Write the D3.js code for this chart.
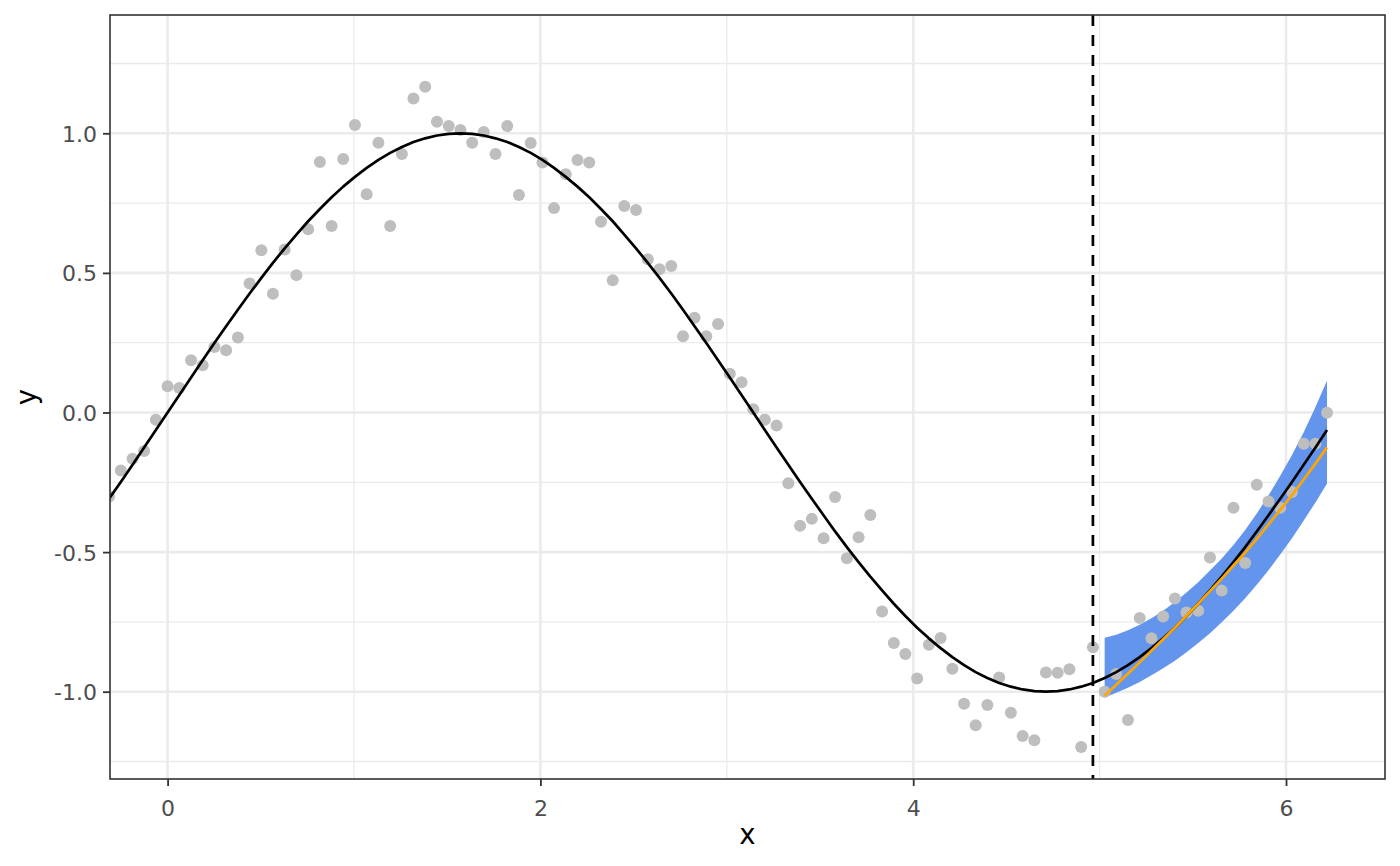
<!DOCTYPE html>
<html><head><meta charset="utf-8">
<script src="https://cdn.jsdelivr.net/npm/d3@7"></script>
<style>body{margin:0;background:#fff;} svg{display:block;}</style>
</head><body><svg id="chart" width="1400" height="866"></svg>
<script>
const xValues = [-0.314,-0.251,-0.188,-0.126,-0.063,0,0.063,0.126,0.188,0.251,0.314,0.377,0.440,0.503,0.565,0.628,0.691,0.754,0.817,0.880,0.942,1.005,1.068,1.131,1.194,1.257,1.319,1.382,1.445,1.508,1.571,1.634,1.696,1.759,1.822,1.885,1.948,2.011,2.073,2.136,2.199,2.262,2.325,2.388,2.450,2.513,2.576,2.639,2.702,2.765,2.827,2.890,2.953,3.016,3.079,3.142,3.204,3.267,3.330,3.393,3.456,3.519,3.581,3.644,3.707,3.770,3.833,3.896,3.958,4.021,4.084,4.147,4.210,4.273,4.335,4.398,4.461,4.524,4.587,4.650,4.712,4.775,4.838,4.901,4.964,5.027,5.089,5.152,5.215,5.278,5.341,5.404,5.466,5.529,5.592,5.655,5.718,5.781,5.843,5.906,5.969,6.032,6.095,6.158,6.220];
const yObserved = [-0.301,-0.208,-0.166,-0.138,-0.026,0.094,0.088,0.187,0.169,0.235,0.223,0.269,0.462,0.581,0.425,0.584,0.492,0.656,0.897,0.668,0.908,1.030,0.782,0.966,0.668,0.926,1.125,1.167,1.041,1.026,1.012,0.966,1.005,0.926,1.026,0.779,0.965,0.895,0.732,0.853,0.904,0.895,0.683,0.474,0.740,0.725,0.549,0.513,0.525,0.273,0.339,0.273,0.317,0.139,0.108,0.012,-0.026,-0.047,-0.253,-0.406,-0.381,-0.450,-0.303,-0.522,-0.447,-0.367,-0.713,-0.826,-0.865,-0.953,-0.832,-0.808,-0.918,-1.043,-1.120,-1.048,-0.949,-1.075,-1.159,-1.174,-0.931,-0.932,-0.920,-1.198,-0.841,-1.000,-0.937,-1.101,-0.736,-0.809,-0.731,-0.666,-0.716,-0.710,-0.519,-0.638,-0.341,-0.539,-0.259,-0.319,-0.341,-0.285,-0.112,-0.112,-0.001];
const yTrue = [-0.309,-0.249,-0.187,-0.125,-0.063,0,0.063,0.125,0.187,0.249,0.309,0.368,0.426,0.482,0.536,0.588,0.637,0.685,0.729,0.771,0.809,0.844,0.876,0.905,0.930,0.951,0.969,0.982,0.992,0.998,1.000,0.998,0.992,0.982,0.969,0.951,0.930,0.905,0.876,0.844,0.809,0.771,0.729,0.685,0.637,0.588,0.536,0.482,0.426,0.368,0.309,0.249,0.187,0.125,0.063,0,-0.063,-0.125,-0.187,-0.249,-0.309,-0.368,-0.426,-0.482,-0.536,-0.588,-0.637,-0.685,-0.729,-0.771,-0.809,-0.844,-0.876,-0.905,-0.930,-0.951,-0.969,-0.982,-0.992,-0.998,-1.000,-0.998,-0.992,-0.982,-0.969,-0.951,-0.930,-0.905,-0.876,-0.844,-0.809,-0.771,-0.729,-0.685,-0.637,-0.588,-0.536,-0.482,-0.426,-0.368,-0.309,-0.249,-0.187,-0.125,-0.063];
const forecastX = [5.027,5.089,5.152,5.215,5.278,5.341,5.404,5.466,5.529,5.592,5.655,5.718,5.781,5.843,5.906,5.969,6.032,6.095,6.158,6.220];
const forecastMean = [-1.015,-0.975,-0.936,-0.895,-0.853,-0.812,-0.771,-0.728,-0.685,-0.640,-0.595,-0.548,-0.502,-0.453,-0.401,-0.349,-0.296,-0.240,-0.183,-0.125];
const forecastLower = [-1.022,-1.004,-0.986,-0.965,-0.941,-0.916,-0.889,-0.859,-0.826,-0.791,-0.751,-0.710,-0.665,-0.617,-0.565,-0.509,-0.450,-0.387,-0.322,-0.254];
const forecastUpper = [-0.807,-0.796,-0.780,-0.760,-0.737,-0.710,-0.679,-0.645,-0.608,-0.566,-0.523,-0.475,-0.421,-0.362,-0.297,-0.227,-0.152,-0.071,0.020,0.115];
const cutoffX = 4.964;
const xTicks = [0, 2, 4, 6];
const xTickLabels = ["0", "2", "4", "6"];
const xMinor = [1, 3, 5];
const yTicks = [-1, -0.5, 0, 0.5, 1];
const yTickLabels = ["-1.0", "-0.5", "0.0", "0.5", "1.0"];
const yMinor = [-1.25, -0.75, -0.25, 0.25, 0.75, 1.25];

const P = {left: 110, right: 1385, top: 15, bottom: 779};
const svg = d3.select("#chart");
const x = d3.scaleLinear().domain([-0.309, 6.531]).range([P.left, P.right]);
const y = d3.scaleLinear().domain([-1.3127, 1.4237]).range([P.bottom, P.top]);
const FONT = "'DejaVu Sans', sans-serif";

svg.append("defs").append("clipPath").attr("id", "clip")
  .append("rect").attr("x", P.left).attr("y", P.top)
  .attr("width", P.right - P.left).attr("height", P.bottom - P.top);

const grid = svg.append("g");
const gc = "#EBEBEB";
grid.selectAll(".xmin").data(xMinor).join("line")
  .attr("x1", d => x(d)).attr("x2", d => x(d)).attr("y1", P.top).attr("y2", P.bottom)
  .attr("stroke", gc).attr("stroke-width", 1.3);
grid.selectAll(".ymin").data(yMinor).join("line")
  .attr("y1", d => y(d)).attr("y2", d => y(d)).attr("x1", P.left).attr("x2", P.right)
  .attr("stroke", gc).attr("stroke-width", 1.3);
grid.selectAll(".xmaj").data(xTicks).join("line")
  .attr("x1", d => x(d)).attr("x2", d => x(d)).attr("y1", P.top).attr("y2", P.bottom)
  .attr("stroke", gc).attr("stroke-width", 2.6);
grid.selectAll(".ymaj").data(yTicks).join("line")
  .attr("y1", d => y(d)).attr("y2", d => y(d)).attr("x1", P.left).attr("x2", P.right)
  .attr("stroke", gc).attr("stroke-width", 2.6);

const plot = svg.append("g").attr("clip-path", "url(#clip)");

const fc = forecastX.map((d, i) => ({x: d, m: forecastMean[i], lo: forecastLower[i], hi: forecastUpper[i]}));
plot.append("path").datum(fc)
  .attr("d", d3.area().x(d => x(d.x)).y0(d => y(d.lo)).y1(d => y(d.hi)))
  .attr("fill", "#6495ED");

const pts = xValues.map((d, i) => ({x: d, y: yObserved[i], t: yTrue[i]}));
plot.selectAll("circle").data(pts).join("circle")
  .attr("cx", d => x(d.x)).attr("cy", d => y(d.y)).attr("r", 6)
  .attr("fill", "#BEBEBE");

plot.append("path").datum(pts)
  .attr("d", d3.line().x(d => x(d.x)).y(d => y(d.t)))
  .attr("fill", "none").attr("stroke", "#000").attr("stroke-width", 2.7)
  .attr("stroke-linejoin", "round");

plot.append("path").datum(fc)
  .attr("d", d3.line().x(d => x(d.x)).y(d => y(d.m)))
  .attr("fill", "none").attr("stroke", "#FFA500").attr("stroke-width", 2.7)
  .attr("stroke-linejoin", "round");

plot.append("line")
  .attr("x1", x(cutoffX)).attr("x2", x(cutoffX)).attr("y1", P.top).attr("y2", P.bottom)
  .attr("stroke", "#000").attr("stroke-width", 2.7).attr("stroke-dasharray", "11,9");

svg.append("rect").attr("x", P.left).attr("y", P.top)
  .attr("width", P.right - P.left).attr("height", P.bottom - P.top)
  .attr("fill", "none").attr("stroke", "#333333").attr("stroke-width", 1.6);

const xAxis = d3.axisBottom(x).tickValues(xTicks).tickSize(7).tickPadding(6)
  .tickFormat((d, i) => xTickLabels[i]);
const gx = svg.append("g").attr("transform", `translate(0,${P.bottom})`).call(xAxis);
gx.select(".domain").remove();
gx.selectAll(".tick line").attr("stroke", "#333333").attr("stroke-width", 1.8);
gx.selectAll(".tick text").attr("fill", "#4D4D4D").attr("font-size", 22)
  .attr("font-family", FONT).attr("dy", "1.08em");

const yAxis = d3.axisLeft(y).tickValues(yTicks).tickSize(7).tickPadding(6)
  .tickFormat((d, i) => yTickLabels[i]);
const gy = svg.append("g").attr("transform", `translate(${P.left},0)`).call(yAxis);
gy.select(".domain").remove();
gy.selectAll(".tick line").attr("stroke", "#333333").attr("stroke-width", 1.8);
gy.selectAll(".tick text").attr("fill", "#4D4D4D").attr("font-size", 22)
  .attr("font-family", FONT).attr("dy", "0.36em");

svg.append("text").attr("x", (P.left + P.right) / 2).attr("y", 844)
  .attr("text-anchor", "middle").attr("font-family", FONT).attr("font-size", 27.5)
  .attr("fill", "#000").text("x");
svg.append("text").attr("transform", `translate(35.5,${(P.top + P.bottom) / 2}) rotate(-90)`)
  .attr("text-anchor", "middle").attr("font-family", FONT).attr("font-size", 27.5)
  .attr("fill", "#000").text("y");
</script></body></html>
